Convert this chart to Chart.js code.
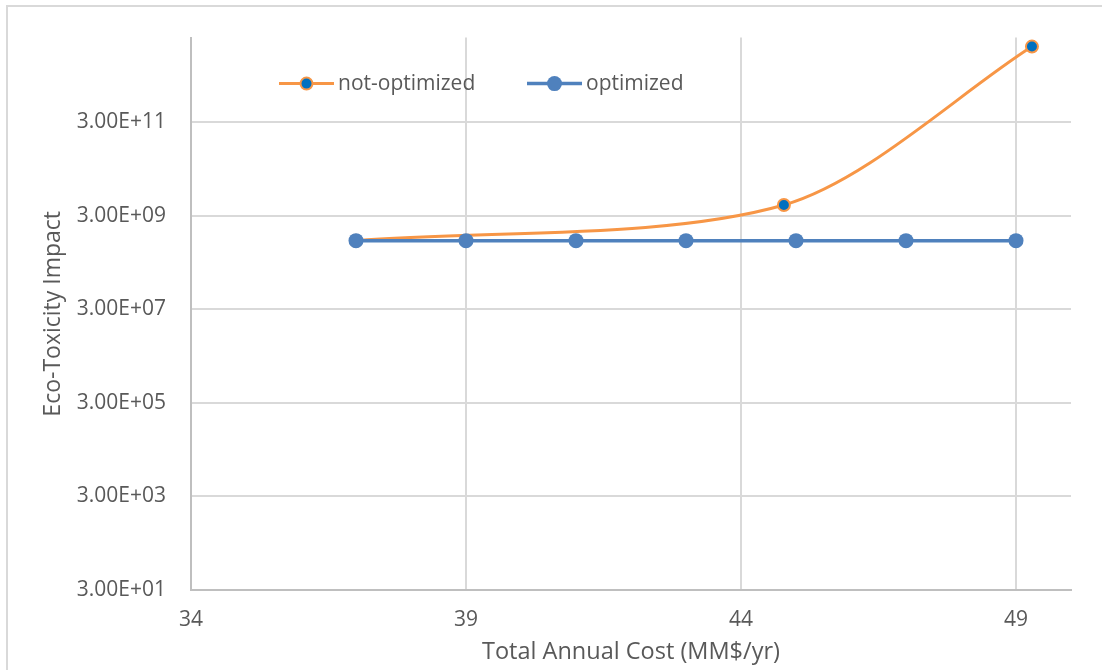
<!DOCTYPE html>
<html>
<head>
<meta charset="utf-8">
<script src="https://cdn.jsdelivr.net/npm/chart.js@4.4.1/dist/chart.umd.min.js"></script>
<style>
  html, body { margin: 0; padding: 0; background: #fff; }
  #wrap { width: 1102px; height: 670px; position: relative; }
</style>
</head>
<body>
<div id="wrap"><canvas id="chart"></canvas></div>
<script>
// Daten
const optimizedCost = [37, 39, 41, 43, 45, 47, 49];
const optimizedImpact = [8.8e8, 8.8e8, 8.8e8, 8.8e8, 8.8e8, 8.8e8, 8.8e8];

const notOptCost = [37, 44.78, 49.29];
const notOptImpact = [8.8e8, 5.1e9, 1.24e13];

const xTicks = [34, 39, 44, 49];
const yTicks = [3e1, 3e3, 3e5, 3e7, 3e9, 3e11];

const COLOR_ORANGE = '#F79646';
const COLOR_BLUE = '#4F81BD';
const COLOR_DARKBLUE = '#0070C0';
const TEXT_COLOR = '#595959';
const GRID_COLOR = '#D9D9D9';
const FONT = '"Open Sans", "Noto Sans", sans-serif';

function toPoints(xs, ys) {
    return xs.map((x, i) => ({ x: x, y: ys[i] }));
}

// Excel-Format 3.00E+11
function sciLabel(v) {
    const parts = Number(v).toExponential(2).split('e');
    const sign = parts[1][0];
    let exp = parts[1].slice(1);
    if (exp.length < 2) exp = '0' + exp;
    return parts[0] + 'E' + sign + exp;
}

// Rahmen um das Diagramm
const framePlugin = {
    id: 'frame',
    beforeDraw(chart) {
        const c = chart.ctx;
        c.save();
        c.fillStyle = '#fff';
        c.fillRect(0, 0, chart.width, chart.height);
        c.strokeStyle = GRID_COLOR;
        c.lineWidth = 2;
        c.strokeRect(7, 6, chart.width + 20, chart.height + 20);
        c.restore();
    }
};

// Legende innerhalb der Zeichenflaeche
const innerLegend = {
    id: 'innerLegend',
    afterDraw(chart) {
        const c = chart.ctx;
        const area = chart.chartArea;
        const y = area.top + 46;
        const items = [
            { ds: chart.data.datasets[1], x: area.left + 88 },
            { ds: chart.data.datasets[0], x: area.left + 336 }
        ];
        c.save();
        items.forEach(it => {
            const ds = it.ds;
            c.strokeStyle = ds.borderColor;
            c.lineWidth = ds.borderWidth;
            c.beginPath();
            c.moveTo(it.x, y);
            c.lineTo(it.x + 55, y);
            c.stroke();
            c.beginPath();
            c.arc(it.x + 27.5, y, ds.pointRadius, 0, Math.PI * 2);
            c.fillStyle = ds.pointBackgroundColor;
            c.fill();
            if (ds.pointBorderWidth) {
                c.lineWidth = ds.pointBorderWidth;
                c.strokeStyle = ds.pointBorderColor;
                c.stroke();
            }
            c.fillStyle = TEXT_COLOR;
            c.font = '21px ' + FONT;
            c.textBaseline = 'middle';
            c.fillText(ds.label, it.x + 59, y);
        });
        c.restore();
    }
};

new Chart(document.getElementById('chart'), {
    type: 'scatter',
    data: {
        datasets: [{
            label: 'optimized',
            data: toPoints(optimizedCost, optimizedImpact),
            showLine: true,
            borderColor: COLOR_BLUE,
            borderWidth: 3.5,
            backgroundColor: COLOR_BLUE,
            pointBackgroundColor: COLOR_BLUE,
            pointBorderWidth: 0,
            pointRadius: 7.5,
            pointHoverRadius: 7.5,
            tension: 0
        }, {
            label: 'not-optimized',
            data: toPoints(notOptCost, notOptImpact),
            showLine: true,
            borderColor: COLOR_ORANGE,
            borderWidth: 3,
            backgroundColor: COLOR_DARKBLUE,
            pointBackgroundColor: COLOR_DARKBLUE,
            pointBorderColor: COLOR_ORANGE,
            pointBorderWidth: 2,
            pointRadius: 6,
            pointHoverRadius: 6,
            tension: 0.3
        }]
    },
    options: {
        responsive: true,
        maintainAspectRatio: false,
        animation: false,
        layout: { padding: { top: 35, right: 31, left: 0, bottom: 0 } },
        plugins: { legend: { display: false }, tooltip: { enabled: false } },
        scales: {
            x: {
                type: 'linear',
                min: 34,
                max: 50,
                afterBuildTicks: s => { s.ticks = xTicks.map(v => ({ value: v })); },
                afterFit: s => { s.height = 80; },
                grid: { color: GRID_COLOR, lineWidth: 2, drawTicks: false },
                border: { display: true, color: '#BFBFBF', width: 2 },
                ticks: { color: TEXT_COLOR, font: { family: FONT, size: 21 }, padding: 17, maxRotation: 0 },
                title: {
                    display: true,
                    text: 'Total Annual Cost (MM$/yr)',
                    color: TEXT_COLOR,
                    font: { family: FONT, size: 23.5 },
                    padding: { top: 0, bottom: 4 }
                }
            },
            y: {
                type: 'logarithmic',
                min: 30,
                max: 1.93e13,
                afterBuildTicks: s => { s.ticks = yTicks.map(v => ({ value: v })); },
                afterFit: s => { s.width = 191; },
                grid: { color: GRID_COLOR, lineWidth: 2, drawTicks: false },
                border: { display: true, color: '#BFBFBF', width: 2 },
                ticks: {
                    color: TEXT_COLOR,
                    font: { family: FONT, size: 21 },
                    padding: 25,
                    callback: v => sciLabel(v)
                },
                title: {
                    display: true,
                    text: 'Eco-Toxicity Impact',
                    color: TEXT_COLOR,
                    font: { family: FONT, size: 23 },
                    padding: { top: 40, bottom: 0 }
                }
            }
        }
    },
    plugins: [framePlugin, innerLegend]
});
</script>
</body>
</html>
